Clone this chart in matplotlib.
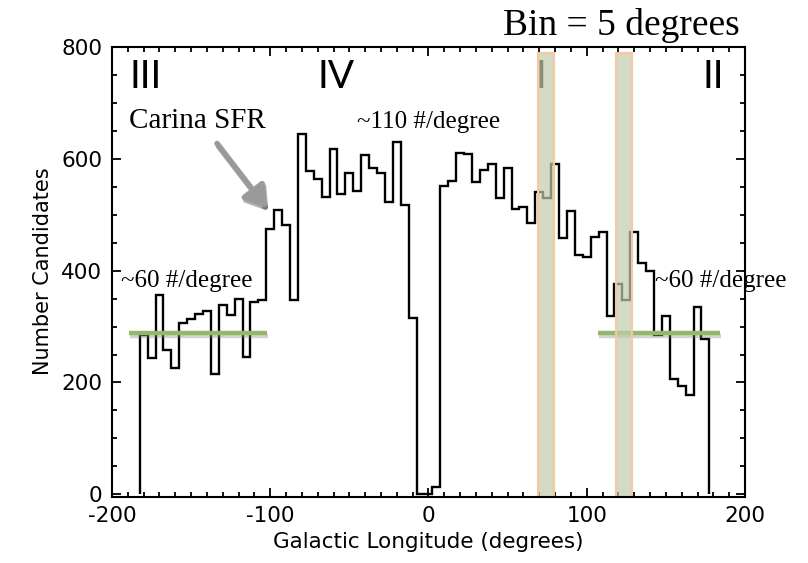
import numpy as np
import matplotlib
matplotlib.use('Agg')
import matplotlib.pyplot as plt
import matplotlib.patheffects as pe
from matplotlib.patches import Rectangle

plt.rcParams['axes.unicode_minus'] = False

# histogram of candidates, 5 degree bins starting at -182.5
bin_start = -182.5
bin_width = 5
counts = [285, 243, 357, 258, 226, 307, 313, 322, 328, 216, 338, 320, 349, 245, 344, 347,
          475, 508, 482, 347,
          644, 578, 563, 532, 617, 537, 574, 543,
          606, 584, 575, 523, 630, 517, 316, 0,
          0, 14, 551, 560, 610, 608, 559, 579,
          590, 530, 584, 510, 514, 485, 540, 529,
          590, 459, 506, 428, 424, 460, 468, 318,
          376, 347, 468, 414, 400, 285, 319, 206,
          193, 178, 335, 278]

# shaded longitude bands (lon start, lon end)
bands = [(69.3, 79.4), (118.7, 128.8)]

# ~60 #/degree reference lines (x start, x end, level)
ref_lines = [(-189.5, -102, 288), (107, 184, 288)]

# quadrant labels
quad_names = ['III', 'IV', 'I', 'II']
quad_lon = [-179, -58.7, 70.8, 180]

edges = bin_start + bin_width * np.arange(len(counts) + 1)

fig = plt.figure(figsize=(8.08, 5.63), dpi=100)
ax = fig.add_axes([0.1386, 0.1178, 0.7834, 0.7993])

ax.stairs(counts, edges, color='black', lw=1.7, zorder=2)

shadow = [pe.SimpleLineShadow(offset=(1, -2), shadow_color='gray', alpha=0.35), pe.Normal()]
for x0, x1, lev in ref_lines:
    ax.plot([x0, x1], [lev, lev], color='#94b86a', lw=3.2, solid_capstyle='butt',
            zorder=3, path_effects=shadow)

for b0, b1 in bands:
    ax.add_patch(Rectangle((b0, -4), b1 - b0, 792, facecolor=(0.757, 0.80, 0.67, 0.7),
                           edgecolor='#f6c7a0', lw=1.5, zorder=4))

# quadrant numerals ('I' sits under the band)
for name, lon in zip(quad_names, quad_lon):
    ax.text(lon, 745, name, ha='center', va='center', fontsize=28, family='Lato',
            color='black', zorder=3.5)

serif = 'Liberation Serif'
ax.text(-189, 654, 'Carina SFR', fontsize=21, family=serif, va='baseline', zorder=5)
ax.text(-45.1, 654, '~110 #/degree', fontsize=18, family=serif, va='baseline', zorder=5)
ax.text(-194.2, 371, '~60 #/degree', fontsize=18, family=serif, va='baseline', zorder=5)
ax.text(142.9, 371, '~60 #/degree', fontsize=18, family=serif, va='baseline', zorder=1)

ax.annotate('', xy=(-102, 511), xytext=(-133.6, 627),
            arrowprops=dict(arrowstyle='-|>,head_length=0.7,head_width=0.45', color='#9a9a9a',
                            lw=4, mutation_scale=18, shrinkA=0, shrinkB=0,
                            path_effects=[pe.SimpleLineShadow(offset=(1, -2), alpha=0.3), pe.Normal()]))

fig.text(740 / 808, 1 - 35 / 563, 'Bin = 5 degrees', ha='right', va='baseline',
         fontsize=27, family=serif)

ax.set_xlim(-200, 200)
ax.set_ylim(-4, 800)
ax.set_xticks([-200, -100, 0, 100, 200])
ax.set_yticks([0, 200, 400, 600, 800])
ax.set_xticks(np.arange(-200, 201, 10), minor=True)
ax.set_yticks(np.arange(0, 801, 50), minor=True)
ax.tick_params(which='both', direction='in', top=True, right=True, width=1.3, labelsize=15.5)
ax.tick_params(which='major', length=6.5, pad=7)
ax.tick_params(which='minor', length=3.6)
for s in ax.spines.values():
    s.set_linewidth(1.5)
    s.set_zorder(6)

ax.set_xlabel('Galactic Longitude (degrees)', fontsize=15.5, labelpad=4)
ax.set_ylabel('Number Candidates', fontsize=15, labelpad=6)

fig.savefig('out.png', dpi=100)
